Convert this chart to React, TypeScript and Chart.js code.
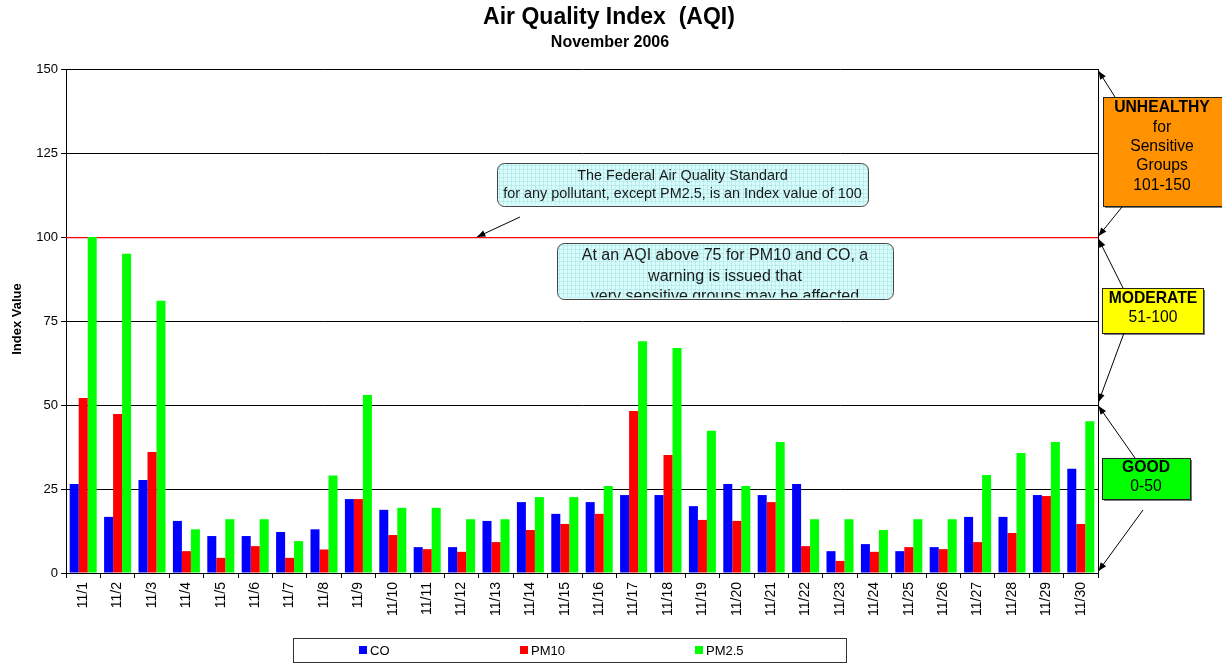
import React, { useEffect, useRef } from 'react';
import { Chart, registerables } from 'chart.js';

Chart.register(...registerables);

const categories = ['11/1','11/2','11/3','11/4','11/5','11/6','11/7','11/8','11/9','11/10','11/11','11/12','11/13','11/14','11/15','11/16','11/17','11/18','11/19','11/20','11/21','11/22','11/23','11/24','11/25','11/26','11/27','11/28','11/29','11/30'];
const coValues = [26.5,16.7,27.7,15.5,11,11,12.2,13,22,18.8,7.7,7.7,15.5,21.1,17.6,21.1,23.2,23.2,19.9,26.5,23.2,26.5,6.5,8.6,6.5,7.7,16.7,16.7,23.2,31];
const pm10Values = [52.1,47.3,36,6.5,4.5,8,4.5,7,22,11.3,7.1,6.3,9.2,12.8,14.6,17.6,48.2,35.1,15.8,15.5,21.1,8,3.6,6.3,7.7,7.1,9.2,11.9,22.9,14.6];
const pm25Values = [100,95,81,13,16,16,9.5,29,53,19.4,19.4,16,16,22.6,22.6,25.9,69,67,42.3,25.9,39,16,16,12.8,16,16,29.2,35.7,39,45.2];
const seriesNames = ['CO', 'PM10', 'PM2.5'];
const seriesColors = ['#0000ff', '#ff0000', '#00ff00'];
const yTicks = { min: 0, max: 150, step: 25 };
const standardLine = 100;

const FONT = 'Arial, "Liberation Sans", sans-serif';

function drawArrow(ctx: CanvasRenderingContext2D, x1: number, y1: number, x2: number, y2: number) {
  ctx.save();
  ctx.strokeStyle = '#000';
  ctx.fillStyle = '#000';
  ctx.lineWidth = 1;
  ctx.beginPath();
  ctx.moveTo(x1, y1);
  ctx.lineTo(x2, y2);
  ctx.stroke();
  const ang = Math.atan2(y2 - y1, x2 - x1);
  const len = 9;
  const w = 0.38;
  ctx.beginPath();
  ctx.moveTo(x2, y2);
  ctx.lineTo(x2 - len * Math.cos(ang - w), y2 - len * Math.sin(ang - w));
  ctx.lineTo(x2 - len * Math.cos(ang + w), y2 - len * Math.sin(ang + w));
  ctx.closePath();
  ctx.fill();
  ctx.restore();
}

function noteBox(ctx: CanvasRenderingContext2D, x: number, y: number, w: number, h: number, lines: string[], fontSize: number, firstY: number, lineH: number) {
  ctx.save();
  ctx.beginPath();
  ctx.roundRect(x + 0.5, y + 0.5, w, h, 7);
  ctx.fillStyle = '#d8fcfc';
  ctx.fill();
  ctx.beginPath();
  ctx.roundRect(x + 0.5, y + 0.5, w, h - 2, 7);
  ctx.clip();
  ctx.strokeStyle = 'rgba(140,215,215,0.35)';
  ctx.lineWidth = 1;
  for (let gx = x + 2; gx < x + w; gx += 4) {
    ctx.beginPath(); ctx.moveTo(gx + 0.5, y); ctx.lineTo(gx + 0.5, y + h + 1); ctx.stroke();
  }
  for (let gy = y + 2; gy < y + h; gy += 4) {
    ctx.beginPath(); ctx.moveTo(x, gy + 0.5); ctx.lineTo(x + w + 1, gy + 0.5); ctx.stroke();
  }
  ctx.fillStyle = '#1a1a1a';
  ctx.font = `${fontSize}px ${FONT}`;
  ctx.textAlign = 'center';
  ctx.textBaseline = 'middle';
  lines.forEach((t, i) => ctx.fillText(t, x + w / 2, firstY + i * lineH));
  ctx.restore();
  ctx.save();
  ctx.beginPath();
  ctx.roundRect(x + 0.5, y + 0.5, w, h, 7);
  ctx.strokeStyle = '#444';
  ctx.lineWidth = 1;
  ctx.stroke();
  ctx.restore();
}

function levelBox(ctx: CanvasRenderingContext2D, x: number, y: number, w: number, h: number, fill: string, lines: { t: string; bold: boolean; y: number }[], cx: number) {
  ctx.save();
  ctx.fillStyle = '#777';
  ctx.fillRect(x + 2, y + 2, w, h);
  ctx.fillStyle = fill;
  ctx.fillRect(x, y, w, h);
  ctx.strokeStyle = '#222';
  ctx.lineWidth = 1;
  ctx.strokeRect(x + 0.5, y + 0.5, w, h);
  ctx.fillStyle = '#000';
  ctx.textAlign = 'center';
  ctx.textBaseline = 'middle';
  lines.forEach((l) => {
    ctx.font = `${l.bold ? 'bold ' : ''}15.7px ${FONT}`;
    ctx.fillText(l.t, cx, l.y);
  });
  ctx.restore();
}

const overlayPlugin = {
  id: 'overlay',
  beforeDatasetsDraw(chart: any) {
    const ctx: CanvasRenderingContext2D = chart.ctx;
    const { left, right } = chart.chartArea;
    const ys = chart.scales.y;
    const py = Math.round(ys.getPixelForValue(standardLine) - 0.5) + 0.5;
    ctx.save();
    ctx.strokeStyle = '#ff0000';
    ctx.lineWidth = 1;
    ctx.beginPath();
    ctx.moveTo(left, py);
    ctx.lineTo(right, py);
    ctx.stroke();
    ctx.strokeStyle = 'rgba(255,0,0,0.25)';
    ctx.beginPath();
    ctx.moveTo(left, py + 1);
    ctx.lineTo(right, py + 1);
    ctx.stroke();
    ctx.restore();
  },
  afterDraw(chart: any) {
    const ctx: CanvasRenderingContext2D = chart.ctx;
    const { top, bottom, right } = chart.chartArea;
    const ys = chart.scales.y;
    const rx = Math.round(right - 0.5) + 0.5;

    ctx.save();
    // right border
    ctx.strokeStyle = '#000';
    ctx.lineWidth = 1;
    ctx.beginPath();
    ctx.moveTo(rx, top);
    ctx.lineTo(rx, bottom);
    ctx.stroke();

    // titles
    ctx.fillStyle = '#000';
    ctx.textAlign = 'center';
    ctx.textBaseline = 'middle';
    ctx.font = `bold 23px ${FONT}`;
    ctx.fillText('Air Quality Index  (AQI)', 609, 18);
    ctx.font = `bold 16px ${FONT}`;
    ctx.fillText('November 2006', 610, 43);

    // y axis title
    ctx.save();
    ctx.translate(17, (top + bottom) / 2 - 2);
    ctx.rotate(-Math.PI / 2);
    ctx.font = `bold 13px ${FONT}`;
    ctx.fillText('Index Value', 0, 0);
    ctx.restore();

    // legend
    ctx.strokeStyle = '#333';
    ctx.strokeRect(293.5, 638.5, 553, 24);
    const legendX = [359, 520, 695];
    chart.data.datasets.forEach((ds: any, i: number) => {
      ctx.fillStyle = ds.backgroundColor;
      ctx.fillRect(legendX[i], 646, 8, 8);
      ctx.fillStyle = '#000';
      ctx.font = `13px ${FONT}`;
      ctx.textAlign = 'left';
      ctx.textBaseline = 'middle';
      ctx.fillText(ds.label, legendX[i] + 11, 651);
    });

    // note boxes
    noteBox(ctx, 497, 163, 371, 43, ['The Federal Air Quality Standard', 'for any pollutant, except PM2.5, is an Index value of 100'], 14.4, 176, 18);
    drawArrow(ctx, 520, 217, 477, ys.getPixelForValue(standardLine));
    noteBox(ctx, 557, 243, 336, 56, ['At an AQI above 75 for PM10 and CO, a', 'warning is issued that', 'very sensitive groups may be affected'], 16, 256, 20.5);

    // level boxes
    levelBox(ctx, 1103, 97, 125, 109, '#ff9200', [
      { t: 'UNHEALTHY', bold: true, y: 108 },
      { t: 'for', bold: false, y: 128 },
      { t: 'Sensitive', bold: false, y: 147 },
      { t: 'Groups', bold: false, y: 166 },
      { t: '101-150', bold: false, y: 186 },
    ], 1162);
    levelBox(ctx, 1102, 288, 101, 45, '#ffff00', [
      { t: 'MODERATE', bold: true, y: 299 },
      { t: '51-100', bold: false, y: 318 },
    ], 1153);
    levelBox(ctx, 1102, 458, 88, 41, '#00ff00', [
      { t: 'GOOD', bold: true, y: 468 },
      { t: '0-50', bold: false, y: 487 },
    ], 1146);

    const tipX = right + 0.5;
    drawArrow(ctx, 1115, 97, tipX, ys.getPixelForValue(150) + 2);
    drawArrow(ctx, 1122, 207, tipX, ys.getPixelForValue(100) - 1);
    drawArrow(ctx, 1123, 288, tipX, ys.getPixelForValue(100) + 2);
    drawArrow(ctx, 1124, 333, tipX, ys.getPixelForValue(50) - 3);
    drawArrow(ctx, 1135, 458, tipX, ys.getPixelForValue(50) + 1);
    drawArrow(ctx, 1143, 510, tipX, ys.getPixelForValue(0) - 2);

    ctx.restore();
  },
};

export default function App() {
  const ref = useRef<HTMLCanvasElement | null>(null);

  useEffect(() => {
    document.body.style.margin = '0';
    if (!ref.current) return;
    const chart = new Chart(ref.current, {
      type: 'bar',
      data: {
        labels: categories,
        datasets: [coValues, pm10Values, pm25Values].map((vals, i) => ({
          label: seriesNames[i],
          data: vals,
          backgroundColor: seriesColors[i],
          borderWidth: 0,
          categoryPercentage: 0.785,
          barPercentage: 1,
        })),
      },
      options: {
        responsive: false,
        maintainAspectRatio: false,
        animation: false,
        events: [],
        layout: { padding: { top: 69, right: 124, left: 0, bottom: 0 } },
        plugins: {
          legend: { display: false },
          title: { display: false },
          tooltip: { enabled: false },
        },
        scales: {
          x: {
            afterFit: (s: any) => { s.height = 90; },
            grid: {
              display: true,
              drawOnChartArea: false,
              drawTicks: true,
              tickLength: 5,
              offset: true,
              color: '#000',
            },
            border: { display: true, color: '#000', width: 1 },
            ticks: {
              autoSkip: false,
              maxRotation: 90,
              minRotation: 90,
              padding: 4,
              color: '#000',
              font: { family: FONT, size: 14 },
            },
          },
          y: {
            min: yTicks.min,
            max: yTicks.max,
            afterFit: (s: any) => { s.width = 66; },
            grid: {
              color: '#000',
              drawTicks: true,
              tickLength: 5,
            },
            border: { display: true, color: '#000', width: 1 },
            ticks: {
              stepSize: yTicks.step,
              padding: 3,
              color: '#000',
              font: { family: FONT, size: 13 },
            },
          },
        },
      },
      plugins: [overlayPlugin],
    } as any);
    return () => chart.destroy();
  }, []);

  return (
    <div style={{ position: 'absolute', left: 0, top: 0, width: 1222, height: 663 }}>
      <canvas ref={ref} width={1222} height={663} style={{ display: 'block', width: 1222, height: 663 }} />
    </div>
  );
}
